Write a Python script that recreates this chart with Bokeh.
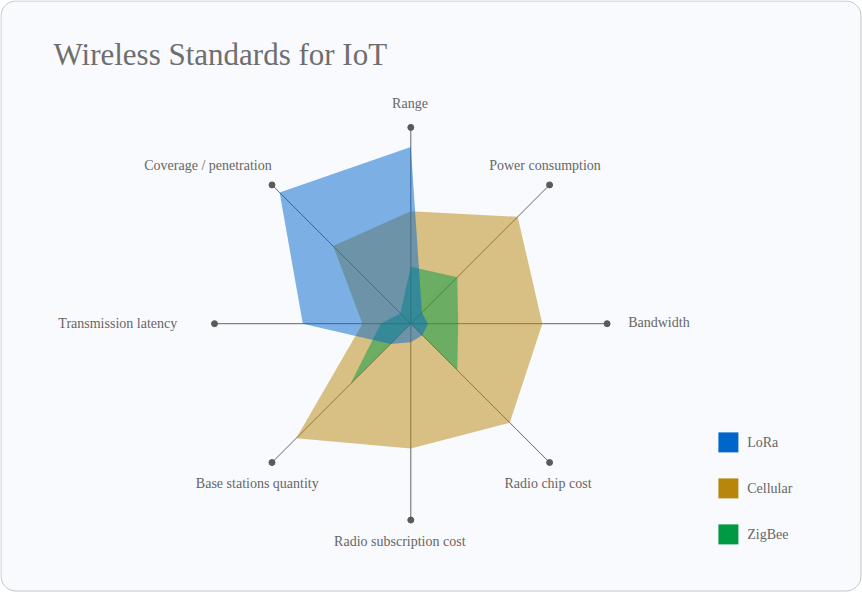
import math
from bokeh.plotting import figure
from bokeh.models import Range1d
from bokeh.core.properties import value
from bokeh.embed import file_html
from bokeh.resources import INLINE

# ---------------- data ----------------
categories = ["Range", "Power consumption", "Bandwidth", "Radio chip cost",
              "Radio subscription cost", "Base stations quantity",
              "Transmission latency", "Coverage / penetration"]
series_names = ["LoRa", "Cellular", "ZigBee"]
lora = [90, 8, 8.7, 8.3, 9.4, 14.6, 55, 94.5]
cellular = [57.3, 77, 67, 71.3, 63.6, 82.5, 24.6, 56]
zigbee = [29, 33.5, 24.1, 33.5, 0, 43.5, 15.3, 7.5]
series_colors = ["#0066CC", "#B8860B", "#009944"]
VMAX = 100
title_text = "Wireless Standards for IoT"

# ---------------- layout ----------------
W, H = 862, 592
OFF = 0
CX_REF, CY_REF = 410.3, 323.2  # radar centre in picture pixels
R_PX = 196.3
SCALE = R_PX / VMAX


def X(px):
    return (px - CX_REF) / SCALE


def Y(py):
    return (CY_REF - py) / SCALE


FONT = value("Liberation Serif")
TXT = "#666666"

p = figure(width=W, height=H, output_backend="svg", toolbar_location=None,
           x_axis_type=None, y_axis_type=None,
           x_range=Range1d(X(OFF), X(OFF + W)),
           y_range=Range1d(Y(OFF + H), Y(OFF)),
           min_border=0, outline_line_color=None,
           background_fill_color="white", border_fill_color="white")
p.grid.visible = False

# card with rounded corners
x0, y0, x1, y1, rad = OFF + 0.5, OFF + 0.5, OFF + W - 1.5, OFF + H - 1.5, 15
cx, cy = [], []
corners = [(x1 - rad, y0 + rad, -90, 0), (x1 - rad, y1 - rad, 0, 90),
           (x0 + rad, y1 - rad, 90, 180), (x0 + rad, y0 + rad, 180, 270)]
for (ccx, ccy, a0, a1) in corners:
    for k in range(13):
        a = math.radians(a0 + (a1 - a0) * k / 12)
        cx.append(X(ccx + rad * math.cos(a)))
        cy.append(Y(ccy + rad * math.sin(a)))
p.patch(cx, cy, fill_color="#f9fafd", line_color="#c4c4c4", line_width=1)

# axes
n = len(categories)
angles = [math.pi / 2 - i * 2 * math.pi / n for i in range(n)]
ex = [VMAX * math.cos(a) for a in angles]
ey = [VMAX * math.sin(a) for a in angles]
p.segment(x0=[0] * n, y0=[0] * n, x1=ex, y1=ey, line_color="#666666", line_width=1)
p.scatter(ex, ey, size=6, fill_color="#5a5a5a", line_color="#5a5a5a")

# series (drawn Cellular, ZigBee, LoRa)
data = {"LoRa": lora, "Cellular": cellular, "ZigBee": zigbee}
col = dict(zip(series_names, series_colors))
for name in ["Cellular", "ZigBee", "LoRa"]:
    vals = data[name]
    xs = [v * math.cos(a) for v, a in zip(vals, angles)]
    ys = [v * math.sin(a) for v, a in zip(vals, angles)]
    p.patch(xs, ys, fill_color=col[name], fill_alpha=0.5, line_color=None)

# axis labels (picture pixel positions, alignment)
label_pos = [(409.5, 103, "center"), (544.5, 165.3, "center"), (627.7, 321.5, "left"),
             (547.5, 483.3, "center"), (399.3, 540.7, "center"), (256.8, 483.3, "center"),
             (176.7, 323.3, "right"), (207.5, 165.0, "center")]
for align in ["center", "left", "right"]:
    idx = [i for i, lp in enumerate(label_pos) if lp[2] == align]
    p.text(x=[X(label_pos[i][0]) for i in idx], y=[Y(label_pos[i][1]) for i in idx],
           text=[categories[i] for i in idx], text_font=FONT, text_font_size="14px",
           text_color=TXT, text_align=align, text_baseline="middle")

# title
p.text(x=[X(53)], y=[Y(53.5)], text=[title_text], text_font=FONT,
       text_font_size="31px", text_color="#6e6e6e", text_align="left",
       text_baseline="alphabetic")

# legend
leg_y = [441.9, 487.9, 533.9]
p.scatter([X(727.9)] * 3, [Y(v) for v in leg_y], marker="square", size=20,
          fill_color=series_colors, line_color=None)
p.text(x=[X(746.7)] * 3, y=[Y(v) for v in leg_y], text=series_names, text_font=FONT,
       text_font_size="14px", text_color=TXT, text_align="left", text_baseline="middle")

open("out.html", "w").write(file_html(p, INLINE))
